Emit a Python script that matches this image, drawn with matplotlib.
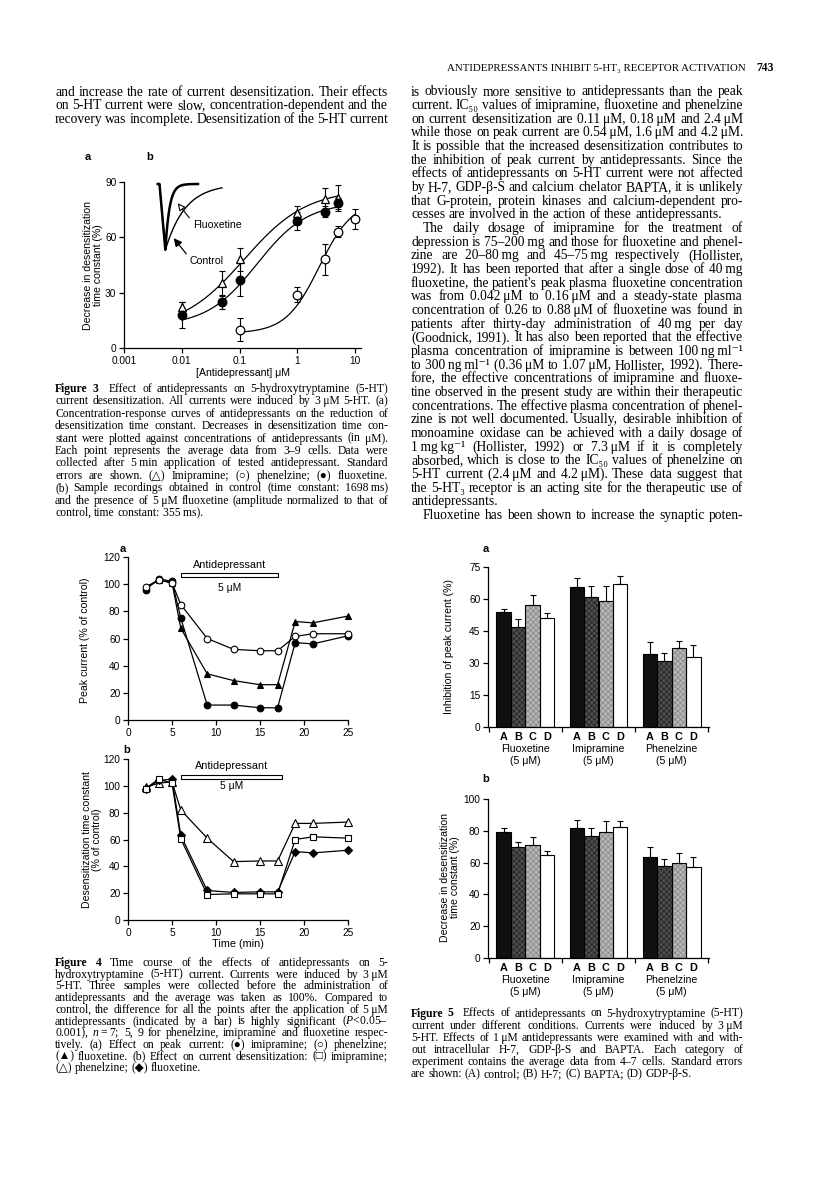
import numpy as np
import matplotlib
matplotlib.use("Agg")
import matplotlib.pyplot as plt
from matplotlib.patches import Rectangle, FancyArrowPatch
from matplotlib.transforms import blended_transform_factory

# ---------------- data: Figure 3 (concentration-response) ----------------
conc_imi = [0.01, 0.05, 0.1, 1, 3, 5]
dec_imi = [22, 35, 48, 73, 81, 81.5]
err_imi = [3, 7, 6, 4, 6, 7]
conc_flu = [0.01, 0.05, 0.1, 1, 3, 5]
dec_flu = [18, 25, 37, 69, 74, 78.5]
err_flu = [7, 4, 9, 5, 3, 3]
conc_phe = [0.1, 1, 3, 5, 10]
dec_phe = [10, 29, 48, 63, 70]
err_phe = [6, 4, 8.5, 3, 5.5]
# fitted Hill curves (bottom, top, EC50, slope)
hill_imi = (10, 86, 0.12, 0.8)
hill_flu = (12, 79, 0.20, 1.0)
hill_phe = (8, 80, 2.4, 1.5)
fig3_xticks = [0.001, 0.01, 0.1, 1, 10]
fig3_xticklabels = ["0.001", "0.01", "0.1", "1", "10"]
fig3_yticks = [0, 30, 60, 90]
# sample recordings: desensitization time constants (ms)
tau_control_ms = 1698
tau_fluox_ms = 355

# ---------------- data: Figure 4 (time course) ----------------
time_min = [2, 3.5, 5, 6, 9, 12, 15, 17, 19, 21, 25]
peak_imi = [96, 104, 102, 75, 11, 11, 9, 9, 57, 56, 62]
peak_phe = [98, 103, 101, 85, 60, 52, 51, 51, 61.5, 63.5, 63.5]
peak_flu = [97, 103, 101, 67.5, 34, 29, 26, 26, 72.5, 71.5, 76.5]
desens_imi = [98, 105, 102, 60.5, 19, 19.5, 19.5, 19.5, 60, 62, 61]
desens_phe = [99, 102, 103, 82, 61, 43.5, 44, 44, 72, 72, 73]
desens_flu = [97.5, 104, 105, 63, 22, 20.5, 21, 21, 51, 50, 52]
drug_on_a = (6, 17)
drug_on_b = (6, 17.5)

# ---------------- data: Figure 5 (bars) ----------------
groups = ["Fluoxetine", "Imipramine", "Phenelzine"]
conds = ["A", "B", "C", "D"]
inhib = [[54, 47, 57, 51], [65.5, 61, 59, 67], [34, 31, 37, 33]]
inhib_err = [[1.2, 3.4, 4.8, 2.3], [4.3, 5, 7, 3.8], [6, 3.6, 3.2, 5.5]]
decr = [[79, 70, 71, 65], [82, 76.5, 79, 82.5], [63.5, 58, 59.5, 57.5]]
decr_err = [[3, 3, 5, 2.3], [5, 5, 7.4, 3.8], [6, 4.2, 6.3, 6.3]]
bar_colors = ["#101010", "#2e2e2e", "#b6b6b6", "#ffffff"]
bar_hatch = [None, "xxxxxx", "xxxxxx", None]
bar_hatch_colors = ["#101010", "#5e5e5e", "#858585", "#ffffff"]

# ---------------- text ----------------
header = "ANTIDEPRESSANTS INHIBIT 5-HT₃ RECEPTOR ACTIVATION"
page_no = "743"
left_body = [
    "and increase the rate of current desensitization. Their effects",
    "on 5-HT current were slow, concentration-dependent and the",
    "recovery was incomplete. Desensitization of the 5-HT current",
]
right_body = [
    "is obviously more sensitive to antidepressants than the peak",
    "current. IC₅₀ values of imipramine, fluoxetine and phenelzine",
    "on current desensitization are 0.11~μM, 0.18~μM and 2.4~μM",
    "while those on peak current are 0.54~μM, 1.6~μM and 4.2~μM.",
    "It is possible that the increased desensitization contributes to",
    "the inhibition of peak current by antidepressants. Since the",
    "effects of antidepressants on 5-HT current were not affected",
    "by H-7, GDP-β-S and calcium chelator BAPTA, it is unlikely",
    "that G-protein, protein kinases and calcium-dependent pro-",
    "cesses are involved in the action of these antidepressants.|",
    ">The daily dosage of imipramine for the treatment of",
    "depression is 75–200~mg and those for fluoxetine and phenel-",
    "zine are 20–80~mg and 45–75~mg respectively (Hollister,",
    "1992). It has been reported that after a single dose of 40~mg",
    "fluoxetine, the patient's peak plasma fluoxetine concentration",
    "was from 0.042~μM to 0.16~μM and a steady-state plasma",
    "concentration of 0.26 to 0.88~μM of fluoxetine was found in",
    "patients after thirty-day administration of 40~mg per day",
    "(Goodnick, 1991). It has also been reported that the effective",
    "plasma concentration of imipramine is between 100~ng~ml⁻¹",
    "to 300~ng~ml⁻¹ (0.36~μM to 1.07~μM, Hollister, 1992). There-",
    "fore, the effective concentrations of imipramine and fluoxe-",
    "tine observed in the present study are within their therapeutic",
    "concentrations. The effective plasma concentration of phenel-",
    "zine is not well documented. Usually, desirable inhibition of",
    "monoamine oxidase can be achieved with a daily dosage of",
    "1~mg~kg⁻¹ (Hollister, 1992) or 7.3~μM if it is completely",
    "absorbed, which is close to the IC₅₀ values of phenelzine on",
    "5-HT current (2.4~μM and 4.2~μM). These data suggest that",
    "the 5-HT₃ receptor is an acting site for the therapeutic use of",
    "antidepressants.|",
    ">Fluoxetine has been shown to increase the synaptic poten-",
]
cap3 = [
    "§Figure§ §3§~~ Effect of antidepressants on 5-hydroxytryptamine (5-HT)",
    "current desensitization. All currents were induced by 3~μM 5-HT. (a)",
    "Concentration-response curves of antidepressants on the reduction of",
    "desensitization time constant. Decreases in desensitization time con-",
    "stant were plotted against concentrations of antidepressants (in μM).",
    "Each point represents the average data from 3–9 cells. Data were",
    "collected after 5~min application of tested antidepressant. Standard",
    "errors are shown. (△) Imipramine; (○) phenelzine; (●) fluoxetine.",
    "(b) Sample recordings obtained in control (time constant: 1698~ms)",
    "and the presence of 5~μM fluoxetine (amplitude normalized to that of",
    "control, time constant: 355~ms).|",
]
cap4 = [
    "§Figure§ §4§ Time course of the effects of antidepressants on 5-",
    "hydroxytryptamine (5-HT) current. Currents were induced by 3~μM",
    "5-HT. Three samples were collected before the administration of",
    "antidepressants and the average was taken as 100%. Compared to",
    "control, the difference for all the points after the application of 5~μM",
    "antidepressants (indicated by a bar) is highly significant ($P$<0.05–",
    "0.001), $n$~=~7; 5, 9 for phenelzine, imipramine and fluoxetine respec-",
    "tively. (a) Effect on peak current: (●) imipramine; (○) phenelzine;",
    "(▲) fluoxetine. (b) Effect on current desensitization: (□) imipramine;",
    "(△) phenelzine; (◆) fluoxetine.|",
]
cap5 = [
    "§Figure§ §5§~~ Effects of antidepressants on 5-hydroxytryptamine (5-HT)",
    "current under different conditions. Currents were induced by 3~μM",
    "5-HT. Effects of 1~μM antidepressants were examined with and with-",
    "out intracellular H-7, GDP-β-S and BAPTA. Each category of",
    "experiment contains the average data from 4–7 cells. Standard errors",
    "are shown: (A) control; (B) H-7; (C) BAPTA; (D) GDP-β-S.|",
]

# ---------------- setup ----------------
plt.rcParams['mathtext.fontset'] = 'custom'
plt.rcParams['mathtext.rm'] = 'Liberation Serif'
plt.rcParams['mathtext.it'] = 'Liberation Serif:italic'
plt.rcParams['mathtext.bf'] = 'Liberation Serif:bold'
plt.rcParams['hatch.linewidth'] = 0.5
SERIF = ['Liberation Serif', 'DejaVu Serif', 'DejaVu Sans']
SANS = ['Liberation Sans', 'DejaVu Sans']
plt.rcParams['font.family'] = SANS

W, H = 816, 1182
fig = plt.figure(figsize=(W / 100, H / 100), dpi=100)
fig.patch.set_facecolor('white')
renderer = fig.canvas.get_renderer()


def fx(x):
    return x / W


def fy(y):
    return 1 - y / H


def add_ax(l, t, r, b):
    return fig.add_axes([l / W, 1 - b / H, (r - l) / W, (b - t) / H])


def style(ax, fs=7.3):
    for s in ['top', 'right']:
        ax.spines[s].set_visible(False)
    for s in ['left', 'bottom']:
        ax.spines[s].set_linewidth(0.9)
    ax.tick_params(direction='out', length=3.5, width=0.9, labelsize=fs, pad=2)
    ax.patch.set_alpha(0)


def text_block(lines, x0, x1, y0, dy, size, family=SERIF, indent=12):
    parsed = []
    for ln in lines:
        ind = ln.startswith('>')
        if ind:
            ln = ln[1:]
        last = ln.endswith('|')
        if last:
            ln = ln[:-1]
        toks = []
        for w in ln.split(' '):
            if not w:
                continue
            wt = 'bold' if w.startswith('§') else 'normal'
            toks.append((w.replace('§', '').replace('~', '\u2009'), wt))
        parsed.append((ind, last, toks))

    def measure(sz):
        out = []
        for ind, last, toks in parsed:
            row = []
            for w, wt in toks:
                t = fig.text(0, 0, w, fontsize=sz, family=family, fontweight=wt)
                row.append(t.get_window_extent(renderer).width)
                t.remove()
            out.append(row)
        t1 = fig.text(0, 0, "n n", fontsize=sz, family=family)
        t2 = fig.text(0, 0, "nn", fontsize=sz, family=family)
        sp = t1.get_window_extent(renderer).width - t2.get_window_extent(renderer).width
        t1.remove(); t2.remove()
        return out, sp

    avail = x1 - x0
    ws, sp = measure(size)
    ratio = 0
    for (ind, last, toks), row in zip(parsed, ws):
        nat = sum(row) + 0.7 * sp * (len(row) - 1) + (indent if ind else 0)
        ratio = max(ratio, nat / avail)
    if ratio > 1:
        size = size / ratio * 0.995
        ws, sp = measure(size)
    for i, ((ind, last, toks), row) in enumerate(zip(parsed, ws)):
        y = y0 + i * dy
        xs = x0 + (indent if ind else 0)
        room = x1 - xs
        n = len(toks)
        gap = sp if (last or n < 2) else (room - sum(row)) / (n - 1)
        x = xs
        for (w, wt), wd in zip(toks, row):
            fig.text(fx(x), fy(y), w, fontsize=size, family=family, fontweight=wt,
                     ha='left', va='baseline')
            x += wd + gap


# ---------------- page text ----------------
fig.text(fx(447), fy(71), header, fontsize=7.8, family=SERIF, ha='left', va='baseline')
fig.text(fx(774), fy(71), page_no, fontsize=8.4, family=SERIF, fontweight='bold',
         ha='right', va='baseline')
LX0, LX1 = 55, 388
RX0, RX1 = 411, 743
text_block(left_body, LX0, LX1, 95.5, 13.66, 9.8)
text_block(right_body, RX0, RX1, 95.5, 13.66, 9.8)
text_block(cap3, LX0, LX1, 392, 12.4, 8.4)
text_block(cap4, LX0, LX1, 966, 11.7, 8.4)
text_block(cap5, RX0, RX1, 1016.5, 12.1, 8.4)

# ---------------- Figure 3 ----------------
ax3 = add_ax(124, 182, 361, 348)
style(ax3)
ax3.set_xscale('log')
ax3.set_xlim(0.001, 12.7)
ax3.set_ylim(0, 90)
ax3.set_xticks(fig3_xticks)
ax3.set_xticklabels(fig3_xticklabels)
ax3.xaxis.set_minor_locator(matplotlib.ticker.NullLocator())
ax3.set_yticks(fig3_yticks)


def hill(x, p):
    b, t, e, n = p
    return b + (t - b) / (1 + (e / x) ** n)


xs_a = np.logspace(np.log10(conc_imi[0]), np.log10(conc_imi[-1]), 200)
xs_p = np.logspace(np.log10(conc_phe[0]), np.log10(conc_phe[-1]), 200)
ax3.plot(xs_a, hill(xs_a, hill_imi), color='black', lw=0.9, zorder=2)
ax3.plot(xs_a, hill(xs_a, hill_flu), color='black', lw=0.9, zorder=2)
ax3.plot(xs_p, hill(xs_p, hill_phe), color='black', lw=0.9, zorder=2)
for c, v, e, mk, fc in [(conc_imi, dec_imi, err_imi, '^', 'white'),
                        (conc_flu, dec_flu, err_flu, 'o', 'black'),
                        (conc_phe, dec_phe, err_phe, 'o', 'white')]:
    ax3.errorbar(c, v, yerr=e, fmt='none', ecolor='black', elinewidth=0.8,
                 capsize=2, capthick=0.8, zorder=3, clip_on=False)
    ax3.plot(c, v, linestyle='none', marker=mk, ms=6.2, mfc=fc, mec='black',
             mew=0.9, zorder=4, clip_on=False)
ax3.set_xlabel("[Antidepressant] μM", fontsize=7.6, labelpad=2)
fig.text(fx(93), fy(265), "Decrease in desensitization\ntime constant (%)", fontsize=7.6,
         rotation=90, ha='center', va='center', linespacing=1.05)
fig.text(fx(88), fy(157), "a", fontsize=8, fontweight='bold', ha='center', va='center')
fig.text(fx(150), fy(157), "b", fontsize=8, fontweight='bold', ha='center', va='center')

# inset sample recordings
axi = add_ax(150, 178, 232, 256)
axi.axis('off')
px_per_s = 11.7
onset_px = 159.5
axi.set_xlim((150 - onset_px) / px_per_s, (232 - onset_px) / px_per_s)
axi.set_ylim(-(256 - 184) / 66, (184 - 178) / 66)
t_peak = 0.5


def trace(t_end, tau_ms):
    t = np.linspace(-0.15, t_end, 500)
    y = np.where(t < 0, 0.0, np.where(t < t_peak, -t / t_peak,
                                        -np.exp(-(t - t_peak) / (tau_ms / 1000.0))))
    return t, y


tc, yc = trace((222 - onset_px) / px_per_s, tau_control_ms)
tf, yf = trace((198 - onset_px) / px_per_s, tau_fluox_ms)
axi.plot(tc, yc, color='black', lw=1.0)
axi.plot(tf, yf, color='black', lw=1.8)

fig.text(fx(193), fy(225), "Fluoxetine", fontsize=7.6, ha='left', va='center')
fig.text(fx(189), fy(261), "Control", fontsize=7.6, ha='left', va='center')
fig.add_artist(FancyArrowPatch((fx(191), fy(220)), (fx(176), fy(201)),
                               transform=fig.transFigure, arrowstyle='-|>',
                               mutation_scale=11, lw=0.8, fc='white', ec='black'))
fig.add_artist(FancyArrowPatch((fx(188), fy(256)), (fx(172), fy(236)),
                               transform=fig.transFigure, arrowstyle='-|>',
                               mutation_scale=12, lw=0.9, fc='black', ec='black'))

# ---------------- Figure 4 ----------------
ax4a = add_ax(128, 557, 348, 720)
ax4b = add_ax(128, 759, 348, 920)
for ax in (ax4a, ax4b):
    style(ax)
    ax.set_xlim(0, 25)
    ax.set_ylim(0, 120)
    ax.set_xticks([0, 5, 10, 15, 20, 25])
    ax.set_yticks([0, 20, 40, 60, 80, 100, 120])

for vals, mk, fc in [(peak_imi, 'o', 'black'), (peak_flu, '^', 'black'),
                     (peak_phe, 'o', 'white')]:
    ax4a.plot(time_min, vals, color='black', lw=0.9, marker=mk, ms=4.8, mfc=fc,
              mec='black', mew=0.8, clip_on=False)
for vals, mk, fc, ms in [(desens_phe, '^', 'white', 5.4), (desens_flu, 'D', 'black', 3.8),
                         (desens_imi, 's', 'white', 4.6)]:
    ax4b.plot(time_min, vals, color='black', lw=0.9, marker=mk, ms=ms, mfc=fc,
              mec='black', mew=0.8, clip_on=False)

for ax, on, yb, ytxt, ysub in [(ax4a, drug_on_a, 105.5, 114, 97.5),
                               (ax4b, drug_on_b, 105, 114.5, 100)]:
    ax.add_patch(Rectangle((on[0], yb), on[1] - on[0], 3, fill=False, lw=0.8,
                           ec='black', clip_on=False))
    xm = (on[0] + on[1]) / 2
    ax.text(xm, ytxt, "Antidepressant", fontsize=7.8, ha='center', va='center')
    ax.text(xm, ysub, "5 μM", fontsize=7.4, ha='center', va='center')

ax4b.set_xlabel("Time (min)", fontsize=7.8, labelpad=1)
fig.text(fx(85), fy(640), "Peak current (% of control)", fontsize=7.6, rotation=90,
         ha='center', va='center')
fig.text(fx(92), fy(840), "Desensitization time constant\n(% of control)", fontsize=7.6,
         rotation=90, ha='center', va='center', linespacing=1.05)
fig.text(fx(123), fy(549), "a", fontsize=8, fontweight='bold', ha='center', va='center')
fig.text(fx(127), fy(750), "b", fontsize=8, fontweight='bold', ha='center', va='center')

# ---------------- Figure 5 ----------------
ax5a = add_ax(488, 567, 709, 727)
ax5b = add_ax(488, 799, 709, 958)
bw = 0.197
for ax, vals, errs, ymax, yt, ylab_y in [(ax5a, inhib, inhib_err, 75, [0, 15, 30, 45, 60, 75], 737),
                                         (ax5b, decr, decr_err, 100, [0, 20, 40, 60, 80, 100], 968)]:
    style(ax)
    ax.set_xlim(-0.51, 2.51)
    ax.set_ylim(0, ymax)
    ax.set_yticks(yt)
    ax.set_xticks([-0.5, 0.5, 1.5, 2.5])
    ax.set_xticklabels([])
    tr = blended_transform_factory(ax.transData, fig.transFigure)
    for g in range(len(groups)):
        for k in range(len(conds)):
            x = g + (k - 1.5) * bw
            ax.bar(x, vals[g][k], width=bw, color=bar_colors[k],
                   edgecolor=bar_hatch_colors[k], hatch=bar_hatch[k], linewidth=0, zorder=2)
            ax.bar(x, vals[g][k], width=bw, fill=False, edgecolor='black',
                   linewidth=0.8, zorder=2.5)
            ax.errorbar(x, vals[g][k], yerr=[[0], [errs[g][k]]], fmt='none', ecolor='black',
                        elinewidth=0.8, capsize=2, capthick=0.8, zorder=3)
            ax.text(x, fy(ylab_y), conds[k], transform=tr, fontsize=7.8, fontweight='bold',
                    ha='center', va='center')
        ax.text(g, fy(ylab_y + 12), groups[g], transform=tr, fontsize=7.6, ha='center',
                va='center')
        ax.text(g, fy(ylab_y + 24), "(5 μM)", transform=tr, fontsize=7.6, ha='center',
                va='center')

fig.text(fx(449), fy(647), "Inhibition of peak current (%)", fontsize=7.6, rotation=90,
         ha='center', va='center')
fig.text(fx(450), fy(877), "Decrease in desensitization\ntime constant (%)", fontsize=7.6,
         rotation=90, ha='center', va='center', linespacing=1.05)
fig.text(fx(486), fy(549), "a", fontsize=8, fontweight='bold', ha='center', va='center')
fig.text(fx(486), fy(779), "b", fontsize=8, fontweight='bold', ha='center', va='center')

fig.savefig("out.png", dpi=100, facecolor='white')
